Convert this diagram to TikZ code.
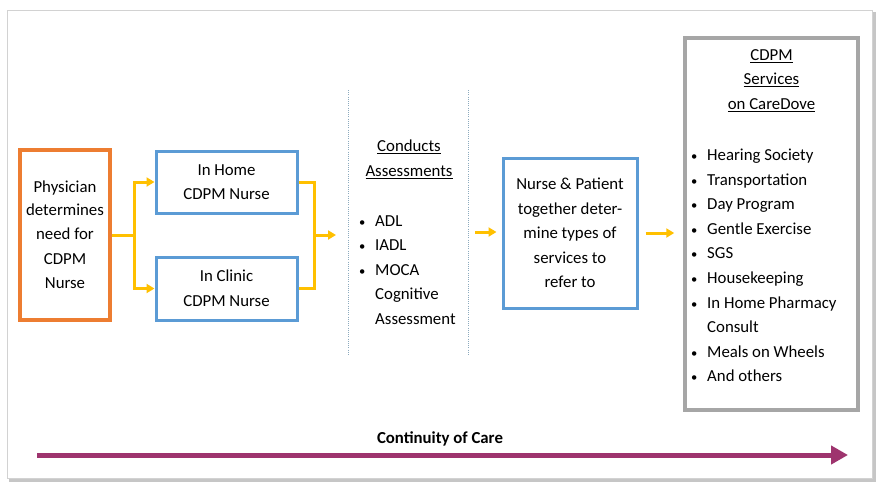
\documentclass[tikz,border=0pt]{standalone}
\usepackage{fontspec}
\setmainfont{Carlito}
\usetikzlibrary{positioning}
\usetikzlibrary{arrows.meta}

\definecolor{boxorange}{RGB}{237,125,49}
\definecolor{boxblue}{RGB}{91,155,213}
\definecolor{boxgray}{RGB}{166,166,166}
\definecolor{linkgold}{RGB}{255,192,0}
\definecolor{carepurple}{RGB}{158,52,110}
\definecolor{dotblue}{RGB}{140,170,190}

\newcommand{\boxfont}{\fontsize{16.8}{24.6}\selectfont}
\newcommand{\bul}{\makebox[17pt][l]{\hspace{1pt}\scalebox{0.75}{\textbullet}}}
\newcommand{\nobul}{\makebox[17pt][l]{}}

\tikzset{
  stepbox/.style={draw, line width=3pt, inner sep=0pt, align=center, font=\boxfont},
  plaintext/.style={inner sep=0pt, font=\boxfont},
  linkline/.style={linkgold, line width=3pt},
  link/.style={linkline, -{Triangle[length=8pt,width=9pt]}},
  sepline/.style={dotblue, line width=1pt, dash pattern=on 1pt off 1.2pt},
}

\begin{document}
\begin{tikzpicture}[x=1pt,y=-1pt]
\useasboundingbox (0,0) rectangle (880,483);
% frame with shadow
\draw[gray!45, line width=3pt] (9,480) -- (874,480) -- (874,12);
\draw[gray!35, fill=white, line width=0.8pt] (7,10) rectangle (872,478);

% boxes
\node[stepbox, draw=boxorange, line width=3.5pt, minimum width=90pt, minimum height=170pt] (phys) at (65,235)
  {\raisebox{-2pt}{Physician}\\determines\\need for\\CDPM\\Nurse};
\node[stepbox, draw=boxblue, minimum width=141pt, minimum height=62pt] (home) at (226.5,182)
  {\raisebox{-2pt}{In Home}\\\raisebox{-2pt}{CDPM Nurse}};
\node[stepbox, draw=boxblue, minimum width=141pt, minimum height=63pt] (clinic) at (226.5,288.5)
  {\raisebox{-2pt}{In Clinic}\\\raisebox{-2pt}{CDPM Nurse}};
\node[stepbox, draw=boxblue, minimum width=134pt, minimum height=150pt] (nurse) at (570,233)
  {Nurse \& Patient\\together deter-\\mine types of\\services to\\refer to};
\node[stepbox, draw=boxgray, line width=3.5pt, minimum width=173pt, minimum height=372pt] (services) at (771.5,224) {};

% assessments column
\draw[sepline] (348,90) -- (348,356);
\draw[sepline] (468,90) -- (468,356);
\node[plaintext, align=center] (conducts) at (409,159.5)
  {\underline{Conducts}\\\underline{Assessments}};
\node[plaintext, align=left, anchor=west] (assess) at (358,270)
  {\bul ADL\\\bul IADL\\\bul MOCA\\\nobul Cognitive\\\nobul Assessment};

% services list
\node[plaintext, align=center] (servtitle) at (771.5,80.5)
  {\underline{CDPM}\\\underline{Services}\\\underline{on CareDove}};
\node[plaintext, align=left, anchor=west] (servlist) at (690,265.5)
  {\bul Hearing Society\\\bul Transportation\\\bul Day Program\\\bul Gentle Exercise\\\bul SGS\\
   \bul Housekeeping\\\bul In Home Pharmacy\\\nobul Consult\\\bul Meals on Wheels\\\bul And others};

% connectors
\coordinate (split) at (134,235);
\coordinate (merge) at (314,235);
\coordinate (assessIn) at (336,235);
\coordinate (assessOut) at (475,232);
\draw[linkline] (phys.east |- split) -- (split);
\draw[link] (split) |- (home.west);
\draw[link] (split) |- (clinic.west);
\draw[linkline] (home.east) -| (merge) |- (clinic.east);
\draw[link] (merge) -- (assessIn);
\draw[link, shorten >=5pt] (assessOut) -- (nurse.west |- assessOut);
\draw[link, shorten <=7pt, shorten >=9pt] (nurse.east) -- (services.west |- nurse.east);

% continuity of care
\node[plaintext, font=\boxfont\bfseries] (care) at (440,439) {Continuity of Care};
\coordinate (careStart) at (37,455);
\coordinate (careEnd) at (848,455);
\draw[carepurple, line width=5pt, -{Triangle[length=17pt,width=18pt]}] (careStart) -- (careEnd);
\end{tikzpicture}
\end{document}
